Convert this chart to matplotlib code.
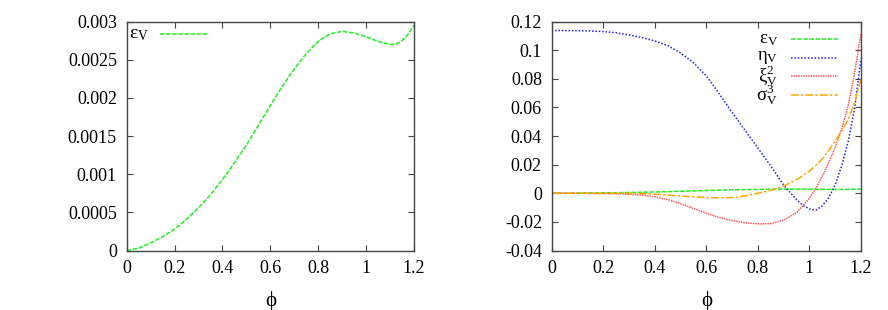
import matplotlib
matplotlib.use("Agg")
import matplotlib.pyplot as plt
from matplotlib.lines import Line2D
from matplotlib.ticker import FixedLocator, FixedFormatter

plt.rcParams['font.family'] = ['Liberation Serif', 'DejaVu Serif']
plt.rcParams['mathtext.fontset'] = 'custom'
plt.rcParams['mathtext.rm'] = 'Liberation Serif'
plt.rcParams['mathtext.it'] = 'Liberation Serif:italic'
plt.rcParams['mathtext.bf'] = 'Liberation Serif:bold'
plt.rcParams['axes.unicode_minus'] = False

# ---- data ----
phi_eps = [0.0, 0.05, 0.1, 0.15, 0.2, 0.25, 0.3, 0.35, 0.4, 0.45, 0.5, 0.55, 0.6,
           0.65, 0.7, 0.75, 0.8, 0.85, 0.9, 0.95, 1.0, 1.05, 1.1, 1.125, 1.15, 1.175, 1.2]
eps_V = [0.0, 0.00003, 0.0001, 0.00018, 0.00028, 0.00041, 0.00056, 0.00073, 0.00093,
         0.00115, 0.00138, 0.00164, 0.0019, 0.00215, 0.00238, 0.00258, 0.00274,
         0.00284, 0.00287, 0.00285, 0.0028, 0.00274, 0.0027, 0.0027, 0.00275, 0.00283, 0.00295]

phi_r = [0.0, 0.05, 0.1, 0.15, 0.2, 0.25, 0.3, 0.35, 0.4, 0.45, 0.5, 0.55, 0.6, 0.65,
         0.7, 0.75, 0.8, 0.85, 0.9, 0.95, 0.975, 1.0, 1.025, 1.05, 1.075, 1.1, 1.125,
         1.15, 1.175, 1.2]
eta_V = [0.1137, 0.1137, 0.1136, 0.1134, 0.113, 0.1121, 0.1106, 0.1088, 0.1064, 0.1032,
         0.098, 0.0912, 0.082, 0.0695, 0.0565, 0.044, 0.0316, 0.019, 0.0056, -0.0045,
         -0.0085, -0.011, -0.0118, -0.0088, -0.003, 0.006, 0.019, 0.036, 0.059, 0.094]
xi2_V = [0.0, 0.0, 0.0, -0.0001, -0.0002, -0.0004, -0.0007, -0.0013, -0.0024, -0.0044,
         -0.0073, -0.0106, -0.0140, -0.0169, -0.0191, -0.0206, -0.0214, -0.0212, -0.0188,
         -0.0135, -0.0085, -0.0035, 0.0035, 0.012, 0.0215, 0.032, 0.045, 0.061, 0.084, 0.112]
sig3_V = [0.0, 0.0, 0.0, 0.0, 0.0, 0.0, 0.0, -0.0002, -0.0006, -0.0012, -0.0019, -0.0025,
          -0.003, -0.0032, -0.003, -0.0019, 0.0, 0.002, 0.005, 0.0095, 0.0124, 0.0155,
          0.0195, 0.024, 0.030, 0.0365, 0.0435, 0.0515, 0.063, 0.080]

xticks = [0, 0.2, 0.4, 0.6, 0.8, 1.0, 1.2]
xticklabels = ['0', '0.2', '0.4', '0.6', '0.8', '1', '1.2']
yticks_l = [0, 0.0005, 0.001, 0.0015, 0.002, 0.0025, 0.003]
yticklabels_l = ['0', '0.0005', '0.001', '0.0015', '0.002', '0.0025', '0.003']
yticks_r = [-0.04, -0.02, 0, 0.02, 0.04, 0.06, 0.08, 0.1, 0.12]
yticklabels_r = ['-0.04', '-0.02', '0', '0.02', '0.04', '0.06', '0.08', '0.1', '0.12']

labels = ['ε$_{\\mathrm{V}}$', 'η$_{\\mathrm{V}}$', 'ξ$^{2}_{\\mathrm{V}}$', 'σ$^{3}_{\\mathrm{V}}$']
colors = ['#22ee22', '#2020ff', '#ff5a5a', '#ffa500']
styles = [(0, (3, 1)), (0, (1, 1.2)), (0, (1, 0.6)), (0, (5, 1.5, 1.5, 1.5))]

fig = plt.figure(figsize=(8.88, 3.10), dpi=100)
axL = fig.add_axes([0.1427, 0.1919, 0.3235, 0.7387])
axR = fig.add_axes([0.6213, 0.1919, 0.3483, 0.7387])

def style_axes(ax, yt, ytl, ylim):
    ax.set_xlim(0, 1.2)
    ax.set_ylim(*ylim)
    ax.xaxis.set_major_locator(FixedLocator(xticks))
    ax.xaxis.set_major_formatter(FixedFormatter(xticklabels))
    ax.yaxis.set_major_locator(FixedLocator(yt))
    ax.yaxis.set_major_formatter(FixedFormatter(ytl))
    ax.tick_params(direction='in', length=4, width=0.8, color='#444444',
                   top=True, right=True, labelsize=13, pad=7)
    for s in ax.spines.values():
        s.set_color('#444444')
        s.set_linewidth(1.0)
    ax.set_xlabel('ϕ', fontsize=15, labelpad=10)

lw = 1.1
axL.plot(phi_eps, eps_V, color=colors[0], linestyle=styles[0], lw=lw)
style_axes(axL, yticks_l, yticklabels_l, (0, 0.003))
axL.text(0.078, 0.944, labels[0], transform=axL.transAxes, ha='right', va='center', fontsize=14)
axL.add_line(Line2D([0.116, 0.283], [0.944, 0.944], transform=axL.transAxes,
                    color=colors[0], linestyle=styles[0], lw=lw))

series_r = [(phi_eps, eps_V), (phi_r, eta_V), (phi_r, xi2_V), (phi_r, sig3_V)]
for (xs, ys), c, ls in zip(series_r, colors, styles):
    axR.plot(xs, ys, color=c, linestyle=ls, lw=lw)
style_axes(axR, yticks_r, yticklabels_r, (-0.04, 0.12))

rows = [0.9236, 0.8428, 0.762, 0.681]
for lab, c, ls, yy in zip(labels, colors, styles, rows):
    axR.text(0.7317, yy, lab, transform=axR.transAxes, ha='right', va='center', fontsize=13.5)
    axR.add_line(Line2D([0.7727, 0.9266], [yy, yy], transform=axR.transAxes,
                        color=c, linestyle=ls, lw=lw))

fig.savefig('out.png', dpi=100)
